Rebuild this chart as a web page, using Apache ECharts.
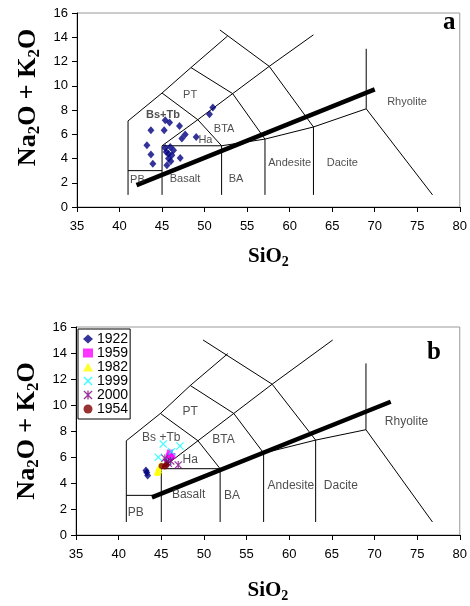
<!DOCTYPE html>
<html>
<head>
<meta charset="utf-8">
<script src="https://cdn.jsdelivr.net/npm/echarts@6/dist/echarts.min.js"></script>
<style>
html,body{margin:0;padding:0;background:#fff}
#chart{width:470px;height:606px}
</style>
</head>
<body>
<div id="chart"></div>
<script>
// field boundaries
var boundsA = [
    [[41,1],[41,7.1],[45,9.4],[48.4,11.5],[52.7,14.1]],
    [[41,3],[45,3]],
    [[45,1],[45,5.05],[52,5.05],[52,1]],
    [[45,5.05],[49.2,7.2],[53.3,9.35],[57.6,11.6],[62.8,14.2]],
    [[45,9.4],[49.2,7.2],[52,5.05]],
    [[48.4,11.5],[53.3,9.35],[57.1,5.6]],
    [[51.8,14.6],[57.6,11.6],[62.8,6.6]],
    [[52,5.05],[57.1,5.6],[62.8,6.6],[69,8.1]],
    [[57.1,1],[57.1,5.6]],
    [[62.8,1],[62.8,6.6]],
    [[69,13.05],[69,8.1],[76.8,1]]
]
var thickA = [[42,1.8],[70,9.7]]

// field boundaries
var boundsB = [
    [[40.9,1],[40.9,7.25],[44.9,9.35],[48.4,11.5],[52.8,13.95]],
    [[40.9,3.05],[45,3.05]],
    [[45,1],[45,5.1],[51.9,5.1],[51.9,1]],
    [[45,5.1],[49.3,7.25],[53.5,9.35],[58,11.6],[65.1,15]],
    [[44.9,9.35],[49.3,7.25],[51.9,5.1]],
    [[48.4,11.5],[53.5,9.35],[57,6.3]],
    [[49.9,15],[58,11.6],[63.1,7.3]],
    [[51.9,5.1],[57,6.3],[63.1,7.3],[69,8.1]],
    [[57,1],[57,6.3]],
    [[63.1,1],[63.1,7.3]],
    [[69,13.2],[69,8.1],[76.8,1]]
]
var thickB = [[43.9,2.9],[71.9,10.25]]

var fieldsA = [
    ['PT',48.3,9.2],['Bs+Tb',45.1,7.6],['BTA',52.3,6.45],['Ha',50.1,5.55],
    ['PB',42.1,2.2],['Basalt',47.7,2.35],['BA',53.7,2.35],
    ['Andesite',60.0,3.6],['Dacite',66.2,3.6],['Rhyolite',73.8,8.7]
]
var fieldsB = [
    ['PT',48.4,9.5],['Bs +Tb',45.0,7.45],['BTA',52.3,7.3],['Ha',48.4,5.8],
    ['PB',42.0,1.75],['Basalt',48.2,3.1],['BA',53.3,3.05],
    ['Andesite',60.2,3.8],['Dacite',66.05,3.8],['Rhyolite',73.75,8.7]
]

// samples, panel a
var samplesA = [
    [43.69,6.33],[43.22,5.09],[43.69,4.32],[43.92,3.57],
    [45.25,6.33],[45.37,7.15],[45.88,6.96],[47.05,6.68],
    [47.72,5.97],[47.33,5.64],[49.01,5.77],[50.57,7.65],[50.97,8.2],
    [45.37,4.87],[45.96,4.95],[46.35,4.68],[45.76,4.40],[45.49,4.54],
    [46.15,4.26],[45.76,3.99],[46.03,3.77],[47.13,4.04],[45.57,3.44]
]

// samples, panel b, by eruption year
var years = ['1922','1959','1982','1999','2000','1954']
var s1922 = [[43.2,4.96],[43.3,4.8],[43.4,4.58]]
var s1959 = [[46.0,6.34],[46.3,6.08],[46.1,6.0],[45.9,6.1]]
var s1982 = [[44.6,4.8],[44.75,5.0],[44.9,5.4],[44.7,5.2],[44.5,4.88]]
var s1999 = [[45.23,7.0],[47.19,6.85],[44.65,5.98],[46.2,6.41],[45.8,5.7]]
var s2000 = [[46.99,5.39],[45.43,5.9],[45.82,5.52],[46.1,5.7],[45.6,5.6]]
var s1954 = [[45.04,5.31],[45.43,5.26],[45.6,5.4]]

var yearColors = ['#000080','#ff00ff','#ffff00','#00ffff','#800080','#800000']
var crossPath = 'path://M0,1L1,0L5,4L9,0L10,1L6,5L10,9L9,10L5,6L1,10L0,9L4,5Z'
var starPath = 'path://M0,1L1,0L5,4L9,0L10,1L6,5L10,9L9,10L5,6L1,10L0,9L4,5ZM4.3,0L5.7,0L5.7,10L4.3,10Z'
var yearSymbols = ['diamond','rect','triangle',crossPath,starPath,'circle']
var yearSizes = [[7,8],6,7,8,8,6]

var chart = echarts.init(document.getElementById('chart'))

var serif = 'Liberation Serif'
var sans = 'Liberation Sans'

function xAx(gi, gap){
    return {
        type:'value', gridIndex:gi, min:35, max:80, interval:5,
        axisLine:{onZero:false, lineStyle:{color:'#000', width:1}},
        axisTick:{length:5, lineStyle:{color:'#000'}},
        axisLabel:{color:'#000', fontSize:13, fontFamily:sans, margin:13},
        splitLine:{show:false},
        name:'SiO{s|2}', nameLocation:'middle', nameGap:gap,
        nameTextStyle:{color:'#000', fontFamily:serif, fontWeight:'bold', fontSize:21,
            rich:{s:{fontFamily:serif, fontWeight:'bold', fontSize:14, padding:[10,0,0,0]}}}
    }
}
function yAx(gi, shift){
    return {
        type:'value', gridIndex:gi, min:0, max:16, interval:2,
        axisLine:{onZero:false, lineStyle:{color:'#000', width:1}},
        axisTick:{length:5, lineStyle:{color:'#000'}},
        axisLabel:{color:'#000', fontSize:13, fontFamily:sans, margin:9},
        splitLine:{show:false},
        name:'Na{s|2}O + K{s|2}O', nameLocation:'middle', nameGap:34,
        nameTextStyle:{color:'#000', fontFamily:serif, fontWeight:'bold', fontSize:26,
            padding:[0,0,0,shift],
            rich:{s:{fontFamily:serif, fontWeight:'bold', fontSize:17, padding:[12,0,0,0]}}}
    }
}

var series = []
function addBounds(paths, gi){
    paths.forEach(function(p){
        series.push({type:'line', xAxisIndex:gi, yAxisIndex:gi, data:p, symbol:'none',
            silent:true, z:2, lineStyle:{color:'#000', width:1}})
    })
}
function addThick(p, gi){
    series.push({type:'line', xAxisIndex:gi, yAxisIndex:gi, data:p, symbol:'none',
        silent:true, z:3, lineStyle:{color:'#000', width:4.5}})
}
function addFields(list, gi, size, boldName){
    series.push({type:'scatter', xAxisIndex:gi, yAxisIndex:gi, symbolSize:0, silent:true, z:4,
        data:list.map(function(f){
            return {name:f[0], value:[f[1],f[2]],
                label:{fontWeight: f[0]===boldName ? 'bold' : 'normal'}}
        }),
        label:{show:true, position:'inside', formatter:'{b}', color:'#222',
            fontSize:size, fontFamily:sans}
    })
}

addBounds(boundsA, 0)
addThick(thickA, 0)
addFields(fieldsA, 0, 11, 'Bs+Tb')
series.push({type:'scatter', name:'samples', xAxisIndex:0, yAxisIndex:0, data:samplesA,
    symbol:'diamond', symbolSize:[7,8], z:5, itemStyle:{color:'#000080'}})

addBounds(boundsB, 1)
addThick(thickB, 1)
addFields(fieldsB, 1, 12, '')
var yearData = [s1922,s1959,s1982,s1999,s2000,s1954]
years.forEach(function(y,i){
    series.push({type:'scatter', name:y, xAxisIndex:1, yAxisIndex:1, data:yearData[i],
        symbol:yearSymbols[i], symbolSize:yearSizes[i], z:5,
        itemStyle:{color:yearColors[i]}})
})

chart.setOption({
    animation:false,
    grid:[
        {left:77, top:13, width:383, height:194, show:true, borderColor:'#999', borderWidth:1},
        {left:76, top:327, width:384, height:208, show:true, borderColor:'#999', borderWidth:1}
    ],
    xAxis:[xAx(0,38), xAx(1,44)],
    yAxis:[yAx(0,25), yAx(1,0)],
    legend:{
        data:years, orient:'vertical', left:78, top:329,
        itemWidth:10, itemHeight:9, itemGap:0,
        padding:[3,2,3,5], borderColor:'#000', borderWidth:1, backgroundColor:'#fff',
        textStyle:{fontSize:14, fontFamily:sans, color:'#000', lineHeight:13.4, padding:[0,0,0,-1]}
    },
    graphic:[
        {type:'text', left:443, top:10, style:{text:'a', fontFamily:serif, fontWeight:'bold', fontSize:25, fill:'#000'}},
        {type:'text', left:427, top:340, style:{text:'b', fontFamily:serif, fontWeight:'bold', fontSize:25, fill:'#000'}}
    ],
    series:series
})
</script>
</body>
</html>
